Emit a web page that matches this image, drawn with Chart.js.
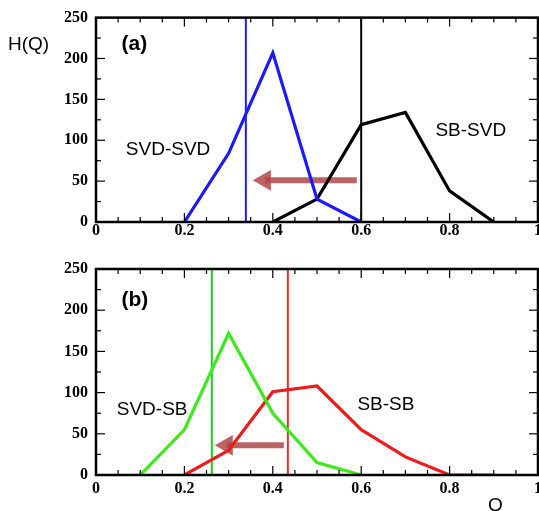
<!DOCTYPE html>
<html>
<head>
<meta charset="utf-8">
<script src="https://cdn.jsdelivr.net/npm/chart.js@4.4.0/dist/chart.umd.min.js"></script>
<style>
html, body { margin: 0; padding: 0; background: #fff; }
#wrap { position: relative; width: 539px; height: 511px; overflow: hidden; }
.panel { position: absolute; left: 0; width: 539px; }
#pa { top: 0; height: 250px; }
#pb { top: 250px; height: 261px; }
</style>
</head>
<body>
<div id="wrap">
  <div class="panel" id="pa"><canvas id="chartA"></canvas></div>
  <div class="panel" id="pb"><canvas id="chartB"></canvas></div>
</div>
<script>
// axis ticks
const qTicks = [0, 0.2, 0.4, 0.6, 0.8, 1];
const hTicks = [0, 50, 100, 150, 200, 250];

// panel (a)
const svdSvdQ = [0.2, 0.3, 0.4, 0.5, 0.6];
const svdSvdH = [0, 84, 207, 28, 0];
const sbSvdQ = [0.4, 0.5, 0.6, 0.7, 0.8, 0.9];
const sbSvdH = [0, 28, 119, 134, 38, 0];
const meanA = [0.339, 0.6];          // blue, black
const arrowA = [0.59, 0.382, 51];    // from, to, height

// panel (b)
const svdSbQ = [0.1, 0.2, 0.3, 0.4, 0.5, 0.6];
const svdSbH = [0, 55, 172, 75, 15, 0];
const sbSbQ = [0.2, 0.3, 0.4, 0.5, 0.6, 0.7, 0.8, 0.9];
const sbSbH = [0, 30, 101, 108, 55, 22, 0, 0];
const meanB = [0.262, 0.434];        // green, red
const arrowB = [0.425, 0.296, 36];

const xy = (qs, hs) => qs.map((q, i) => ({ x: q, y: hs[i] }));
const vline = q => [{ x: q, y: 0 }, { x: q, y: 250 }];

function curve(data, color) {
  return { data, borderColor: color, borderWidth: 3.2, pointRadius: 0, tension: 0 };
}
function mean(q, color) {
  return { data: vline(q), borderColor: color, borderWidth: 2, pointRadius: 0 };
}
function arrow(a) {
  const col = 'rgba(178,72,72,0.85)';
  return {
    data: [{ x: a[0], y: a[2] }, { x: a[1], y: a[2] }],
    borderColor: col, borderWidth: 6,
    pointRadius: [0, 12], pointStyle: 'triangle', pointRotation: 270,
    pointBackgroundColor: col, pointBorderWidth: 0
  };
}

const tickFont = { family: 'Liberation Serif', size: 16, weight: 'bold' };
const sans = '19px "Liberation Sans"';
const sansBold = 'bold 21px "Liberation Sans"';

// inward ticks, frame, x tick labels and the text notes
const frame = {
  id: 'frame',
  afterDatasetsDraw(chart, args, opts) {
    const { ctx, chartArea: a } = chart;
    const x = chart.scales.x, y = chart.scales.y;
    ctx.save();
    ctx.strokeStyle = '#000';
    ctx.lineWidth = 1.2;
    const seg = (x1, y1, x2, y2) => { ctx.beginPath(); ctx.moveTo(x1, y1); ctx.lineTo(x2, y2); ctx.stroke(); };
    for (let i = 0; i <= 20; i++) {
      const px = x.getPixelForValue(i * 0.05);
      const L = i % 4 === 0 ? 9 : 5;
      seg(px, a.bottom, px, a.bottom - L);
      seg(px, a.top, px, a.top + L);
    }
    for (let i = 0; i <= 10; i++) {
      const py = y.getPixelForValue(i * 25);
      const L = i % 2 === 0 ? 9 : 5;
      seg(a.left, py, a.left + L, py);
      seg(a.right, py, a.right - L, py);
    }
    ctx.lineWidth = 2.5;
    ctx.strokeRect(a.left, a.top, a.right - a.left, a.bottom - a.top);

    ctx.fillStyle = '#000';
    ctx.textAlign = 'center';
    ctx.textBaseline = 'middle';
    ctx.font = 'bold 16px "Liberation Serif"';
    for (const q of qTicks) {
      ctx.fillText(String(q), x.getPixelForValue(q), a.bottom + opts.labelGap);
    }
    for (const t of opts.texts) {
      ctx.font = t.font;
      ctx.fillText(t.text, x.getPixelForValue(t.q), y.getPixelForValue(t.h));
    }
    ctx.textAlign = 'left';
    for (const t of opts.free) {
      ctx.font = t.font;
      ctx.fillText(t.text, t.px, t.py);
    }
    ctx.restore();
  }
};

function makeOptions(top, xHeight, labelGap, texts, free) {
  return {
    responsive: true,
    maintainAspectRatio: false,
    animation: false,
    layout: { autoPadding: false, padding: { top: top, right: 1, left: 0, bottom: 0 } },
    plugins: {
      legend: { display: false },
      tooltip: { enabled: false },
      frame: { labelGap, texts, free }
    },
    scales: {
      x: {
        type: 'linear', min: 0, max: 1,
        grid: { display: false, drawTicks: false },
        border: { display: false },
        ticks: { display: false },
        afterFit: s => { s.height = xHeight; }
      },
      y: {
        min: 0, max: 250,
        grid: { display: false, drawTicks: false },
        border: { display: false },
        afterBuildTicks: s => { s.ticks = hTicks.map(v => ({ value: v })); },
        ticks: { font: tickFont, color: '#000', padding: 8 },
        afterFit: s => { s.width = 96; }
      }
    }
  };
}

new Chart(document.getElementById('chartA'), {
  type: 'line',
  data: {
    datasets: [
      curve(xy(svdSvdQ, svdSvdH), '#1a1aff'),
      curve(xy(sbSvdQ, sbSvdH), '#000000'),
      mean(meanA[0], '#1a1aff'),
      mean(meanA[1], '#000000'),
      arrow(arrowA)
    ]
  },
  options: makeOptions(17, 28, 9,
    [
      { text: '(a)', q: 0.087, h: 217, font: sansBold },
      { text: 'SVD-SVD', q: 0.163, h: 88, font: sans },
      { text: 'SB-SVD', q: 0.848, h: 112, font: sans }
    ],
    [{ text: 'H(Q)', px: 8, py: 45, font: sans }]
  ),
  plugins: [frame]
});

new Chart(document.getElementById('chartB'), {
  type: 'line',
  data: {
    datasets: [
      curve(xy(svdSbQ, svdSbH), '#3cea1c'),
      curve(xy(sbSbQ, sbSbH), '#ee1c1c'),
      mean(meanB[0], '#22cc22'),
      mean(meanB[1], '#e03030'),
      arrow(arrowB)
    ]
  },
  options: makeOptions(19, 36, 14,
    [
      { text: '(b)', q: 0.088, h: 212, font: sansBold },
      { text: 'SVD-SB', q: 0.127, h: 79, font: sans },
      { text: 'SB-SB', q: 0.656, h: 85, font: sans }
    ],
    [{ text: 'Q', px: 488, py: 256, font: sans }]
  ),
  plugins: [frame]
});
</script>
</body>
</html>
